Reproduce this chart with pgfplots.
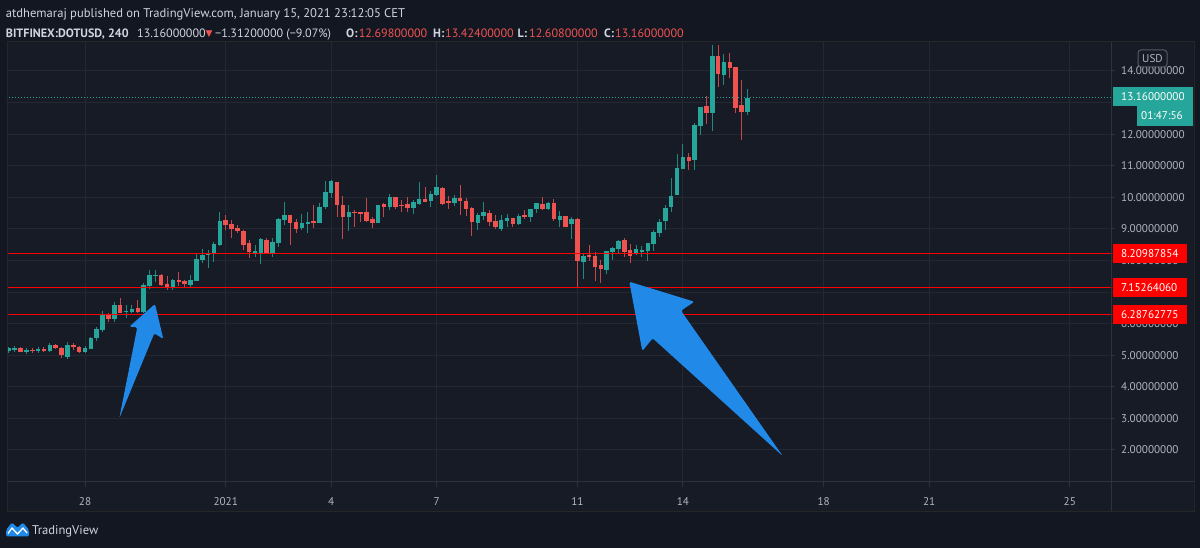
\documentclass[border=0pt]{standalone}
\usepackage{pgfplots}
\pgfplotsset{compat=1.18}
\usepackage{pgfplotstable}
\usepackage{fontspec}
\setmainfont{PT Sans}
\newfontfamily\dejavu{DejaVu Sans}
\definecolor{bgouter}{HTML}{131722}
\definecolor{bgpanel}{HTML}{171B26}
\definecolor{gridc}{HTML}{242833}
\definecolor{sepc}{HTML}{2E323D}
\definecolor{labelc}{HTML}{B2B5BE}
\definecolor{titlec}{HTML}{D1D4DC}
\definecolor{upc}{HTML}{26A69A}
\definecolor{downc}{HTML}{EF5350}
\definecolor{upw}{HTML}{1F8A80}
\definecolor{downw}{HTML}{C4474A}
\definecolor{levc}{HTML}{FF0000}
\definecolor{arrowc}{HTML}{2189E8}
\newcommand\tvfont{\fontsize{11.2bp}{13bp}\selectfont}
\newcommand\ttfont{\fontsize{12.6bp}{14bp}\selectfont}
\newcommand\tlfont{\fontsize{12.1bp}{14bp}\selectfont}

\pgfplotstableread{
k o h l c
-37 5.13 5.27 5.08 5.24
-36 5.19 5.29 5.11 5.22
-34 5.10 5.23 5.04 5.18
-32 5.13 5.25 5.08 5.21
-30 5.13 5.38 5.11 5.31
-27 4.93 5.41 4.88 5.31
-24 5.10 5.29 5.08 5.23
-23 5.21 5.59 5.19 5.55
-22 5.55 5.88 5.46 5.83
-21 5.80 6.40 5.73 6.28
-19 6.15 6.68 6.06 6.59
-17 6.36 6.59 6.17 6.41
-16 6.37 6.59 6.33 6.47
-14 6.37 7.30 6.35 7.22
-13 7.20 7.70 7.09 7.55
-12 7.52 7.70 7.33 7.55
-9 7.16 7.41 7.07 7.38
-6 7.21 7.54 7.17 7.38
-5 7.36 8.23 7.34 8.05
-4 8.02 8.36 7.93 8.18
-3 8.17 8.33 7.76 8.25
-2 8.23 8.60 7.96 8.52
-1 8.50 9.55 8.45 9.25
5 8.23 8.49 8.12 8.30
6 8.24 8.72 7.89 8.68
8 8.23 8.70 8.12 8.60
9 8.56 9.33 8.42 9.31
10 9.29 9.85 9.12 9.43
13 9.02 9.46 8.97 9.18
14 9.16 9.55 8.88 9.22
16 9.20 9.81 9.18 9.70
17 9.68 10.53 9.62 10.18
18 10.13 10.55 9.97 10.52
21 9.39 9.76 8.93 9.54
26 9.20 9.77 9.18 9.76
28 9.70 10.11 9.60 10.02
32 9.67 9.91 9.46 9.84
33 9.79 10.49 9.76 9.95
35 9.89 10.20 9.70 10.11
36 10.08 10.71 10.04 10.32
39 9.83 10.07 9.73 9.99
43 9.20 9.49 8.97 9.44
44 9.42 9.85 9.28 9.55
47 9.00 9.44 8.93 9.28
48 9.26 9.47 9.05 9.36
50 9.16 9.47 9.12 9.41
52 9.39 9.62 9.21 9.62
53 9.62 9.81 9.49 9.81
55 9.62 9.85 9.60 9.83
57 9.28 9.58 9.07 9.41
59 9.14 9.39 8.67 9.31
61 7.95 8.20 7.41 8.14
65 7.70 8.30 7.57 8.30
66 8.28 8.42 8.02 8.38
67 8.36 8.65 8.23 8.62
70 8.20 8.49 8.17 8.36
71 8.26 8.46 8.10 8.33
72 8.31 8.56 7.99 8.56
73 8.52 8.97 8.31 8.90
74 8.88 9.30 8.75 9.23
75 9.26 9.76 8.97 9.67
76 9.68 10.60 9.55 10.05
77 10.07 11.36 10.07 10.93
78 10.90 11.68 10.90 11.28
80 11.18 12.36 10.86 12.29
81 12.26 12.86 11.97 12.86
83 12.67 14.82 12.10 14.47
85 13.87 14.53 13.56 14.29
89 12.698 13.424 12.608 13.16
}\upcandles

\pgfplotstableread{
k o h l c
-35 5.23 5.25 5.10 5.11
-33 5.17 5.22 5.08 5.15
-31 5.19 5.25 5.11 5.16
-29 5.31 5.34 5.20 5.22
-28 5.23 5.27 4.91 5.01
-26 5.33 5.39 5.17 5.26
-25 5.27 5.29 5.08 5.10
-20 6.29 6.34 6.06 6.15
-18 6.59 6.81 6.33 6.35
-15 6.50 6.75 6.33 6.37
-11 7.55 7.57 7.20 7.22
-10 7.27 7.51 7.05 7.16
-8 7.38 7.64 7.19 7.32
-7 7.35 7.38 7.15 7.24
0 9.27 9.44 8.97 9.12
1 9.15 9.28 8.70 9.00
2 9.03 9.12 8.86 8.93
3 8.93 8.96 8.33 8.49
4 8.56 8.65 8.09 8.26
7 8.65 8.70 8.21 8.23
11 9.43 9.45 8.49 9.18
12 9.23 9.31 8.86 9.00
15 9.23 9.76 9.02 9.20
19 10.49 10.50 9.39 9.75
20 9.76 10.04 8.68 9.39
22 9.55 9.60 9.07 9.50
23 9.52 9.55 9.21 9.47
24 9.55 9.99 9.23 9.25
25 9.31 9.39 9.04 9.20
27 9.80 9.81 9.39 9.70
29 10.02 10.02 9.62 9.70
30 9.76 9.91 9.55 9.74
31 9.80 10.02 9.54 9.67
34 9.95 10.34 9.85 9.86
37 10.31 10.34 9.76 9.79
38 9.88 10.04 9.62 9.83
40 9.99 10.39 9.44 9.88
41 9.88 9.97 9.41 9.63
42 9.66 9.68 8.77 9.23
45 9.49 9.60 9.10 9.23
46 9.25 9.44 9.00 9.05
49 9.34 9.34 9.07 9.16
51 9.44 9.60 9.30 9.39
54 9.79 10.02 9.60 9.62
56 9.83 9.95 9.26 9.30
58 9.41 9.41 9.05 9.07
60 9.31 9.33 7.12 7.99
62 8.17 8.49 7.99 8.12
63 8.14 8.28 7.35 7.80
64 7.86 8.02 7.30 7.73
68 8.65 8.70 8.12 8.28
69 8.33 8.52 7.93 8.15
79 11.28 11.40 10.86 11.15
82 12.89 13.21 12.32 12.67
84 14.47 14.82 13.49 13.92
86 14.29 14.57 13.79 14.08
87 14.13 14.13 12.68 12.84
88 12.92 13.72 11.83 12.71
}\downcandles

\begin{document}
\begin{tikzpicture}
\path[use as bounding box, fill=bgouter] (0,0) rectangle (1200bp,548bp);
\fill[bgpanel] (7bp,36bp) rectangle (1194bp,506bp);

\begin{axis}[
  at={(7bp,66bp)}, anchor=south west,
  scale only axis, width=1104bp, height=440bp,
  xmin=-37.31, xmax=151.02, ymin=0.985, ymax=14.918,
  axis line style={draw=none},
  grid=major,
  grid style={draw=gridc, line width=1bp},
  xtick={-24,0,18,36,60,78,102,120,144},
  xticklabels={28,2021,4,7,11,14,18,21,25},
  ytick={2,3,...,14},
  yticklabels={2.00000000,3.00000000,4.00000000,5.00000000,6.00000000,,8.00000000,9.00000000,10.00000000,11.00000000,12.00000000,,14.00000000},
  xtick pos=left, ytick pos=right,
  xticklabel pos=left, yticklabel pos=right,
  tick align=outside,
  major tick length=4.5bp,
  tick style={draw=sepc, line width=1bp},
  xticklabel style={font=\tvfont, text=labelc, anchor=center, inner sep=0pt, yshift=-15bp},
  yticklabel style={font=\tvfont, text=labelc, anchor=west, inner sep=0pt, xshift=5.5bp},
  clip=true,
]
% wicks
\addplot[draw=none, mark=none, forget plot,
  error bars/.cd, y dir=both, y explicit, error mark=none,
  error bar style={draw=upw, solid, line width=1bp}]
  table[x=k, y expr={(\thisrow{h}+\thisrow{l})/2}, y error expr={(\thisrow{h}-\thisrow{l})/2}] {\upcandles};
\addplot[draw=none, mark=none, forget plot,
  error bars/.cd, y dir=both, y explicit, error mark=none,
  error bar style={draw=downw, solid, line width=1bp}]
  table[x=k, y expr={(\thisrow{h}+\thisrow{l})/2}, y error expr={(\thisrow{h}-\thisrow{l})/2}] {\downcandles};
% bodies
\addplot[draw=none, mark=none, forget plot,
  error bars/.cd, y dir=both, y explicit, error mark=none,
  error bar style={draw=upc, solid, line width=4.5bp}]
  table[x=k, y expr={(\thisrow{o}+\thisrow{c})/2}, y error expr={max(abs(\thisrow{c}-\thisrow{o})/2,0.02)}] {\upcandles};
\addplot[draw=none, mark=none, forget plot,
  error bars/.cd, y dir=both, y explicit, error mark=none,
  error bar style={draw=downc, solid, line width=4.5bp}]
  table[x=k, y expr={(\thisrow{o}+\thisrow{c})/2}, y error expr={max(abs(\thisrow{c}-\thisrow{o})/2,0.02)}] {\downcandles};
% levels
\addplot[draw=levc, line width=1bp, mark=none] coordinates {(-40,8.20987854) (155,8.20987854)};
\addplot[draw=levc, line width=1bp, mark=none] coordinates {(-40,7.15264060) (155,7.15264060)};
\addplot[draw=levc, line width=1.5bp, mark=none] coordinates {(-40,6.28762775) (155,6.28762775)};
\addplot[draw=upc, line width=1bp, mark=none, dash pattern=on 1bp off 2bp] coordinates {(-40,13.16) (155,13.16)};
\end{axis}

% separators and border
\draw[sepc, line width=1bp] (1111bp,36bp) -- (1111bp,506bp);
\draw[sepc, line width=1bp] (7bp,66bp) -- (1194bp,66bp);
\draw[black!85, line width=1bp] (7bp,36bp) rectangle (1194bp,506bp);

% price axis boxes
\draw[sepc!80!white, line width=1bp, rounded corners=3bp, fill=bgpanel] (1138bp,481bp) rectangle (1167bp,498bp);
\node[font=\tvfont, text=labelc, inner sep=0pt] at (1152.5bp,489.5bp) {USD};

\fill[upc] (1112.7bp,442.3bp) rectangle (1192.7bp,460.7bp);
\node[font=\tvfont, text=white, anchor=west, inner sep=0pt] at (1121bp,451.5bp) {13.16000000};
\fill[upc] (1136.7bp,422.3bp) rectangle (1192.7bp,441.7bp);
\node[font=\tvfont, text=white, anchor=west, inner sep=0pt] at (1141bp,432bp) {01:47:56};

\fill[levc] (1112.7bp,285.3bp) rectangle (1186.7bp,304bp);
\node[font=\tvfont, text=white, anchor=west, inner sep=0pt] at (1121bp,294.6bp) {8.20987854};
\fill[levc] (1112.7bp,251.3bp) rectangle (1186.7bp,270bp);
\node[font=\tvfont, text=white, anchor=west, inner sep=0pt] at (1121bp,260.6bp) {7.15264060};
\fill[levc] (1112.7bp,224bp) rectangle (1186.7bp,243bp);
\node[font=\tvfont, text=white, anchor=west, inner sep=0pt] at (1121bp,233.5bp) {6.28762775};

% arrows
\fill[arrowc, rounded corners=1.5bp] (119.3bp,129.7bp) -- (154.3bp,214.7bp) -- (163.3bp,209bp) -- (155bp,244bp) -- (129.3bp,221.3bp) -- (137.3bp,220.7bp) -- cycle;
\fill[arrowc, rounded corners=1.5bp] (629.3bp,266.3bp) -- (694.3bp,246.3bp) -- (681bp,237.3bp) -- (782.7bp,92bp) -- (652.7bp,209.7bp) -- (642.3bp,197bp) -- cycle;

% title
\node[font=\ttfont, text=titlec, anchor=base west, inner sep=0pt] at (5.7bp,530bp) {atdhemaraj published on TradingView.com, January 15, 2021 23:12:05 CET};
\node[font=\tlfont\bfseries, text=titlec, anchor=base west, inner sep=0pt] at (5.7bp,510.5bp) {BITFINEX:DOTUSD, 240};
\node[font=\tlfont, text=titlec, anchor=base west, inner sep=0pt] at (137bp,510.5bp) {13.16000000};
\node[font=\dejavu\fontsize{9bp}{10bp}\selectfont, text=downc, anchor=base west, inner sep=0pt] at (205.5bp,511bp) {▼};
\node[font=\tlfont, text=titlec, anchor=base west, inner sep=0pt] at (215bp,510.5bp) {−1.31200000 (−9.07\%)};
\node[font=\tlfont\bfseries, text=titlec, anchor=base west, inner sep=0pt] at (346bp,510.5bp) {O:};
\node[font=\tlfont, text=downc, anchor=base west, inner sep=0pt] at (358.6bp,510.5bp) {12.69800000};
\node[font=\tlfont\bfseries, text=titlec, anchor=base west, inner sep=0pt] at (433bp,510.5bp) {H:};
\node[font=\tlfont, text=downc, anchor=base west, inner sep=0pt] at (445bp,510.5bp) {13.42400000};
\node[font=\tlfont\bfseries, text=titlec, anchor=base west, inner sep=0pt] at (517.5bp,510.5bp) {L:};
\node[font=\tlfont, text=downc, anchor=base west, inner sep=0pt] at (529bp,510.5bp) {12.60800000};
\node[font=\tlfont\bfseries, text=titlec, anchor=base west, inner sep=0pt] at (604bp,510.5bp) {C:};
\node[font=\tlfont, text=downc, anchor=base west, inner sep=0pt] at (615bp,510.5bp) {13.16000000};

% logo and brand
\fill[arrowc, rounded corners=2bp] (6bp,11.5bp) -- (6bp,18bp) -- (12bp,25.5bp) -- (17.5bp,20bp) -- (23bp,25.5bp) -- (29bp,18bp) -- (29bp,11.5bp) -- cycle;
\draw[white, line width=1.3bp, line join=round] (8bp,14.5bp) -- (12bp,20bp) -- (17.5bp,14bp) -- (23bp,20bp) -- (27bp,15bp);
\node[font=\ttfont, text=titlec, anchor=base west, inner sep=0pt] at (32bp,14bp) {TradingView};
\end{tikzpicture}
\end{document}
